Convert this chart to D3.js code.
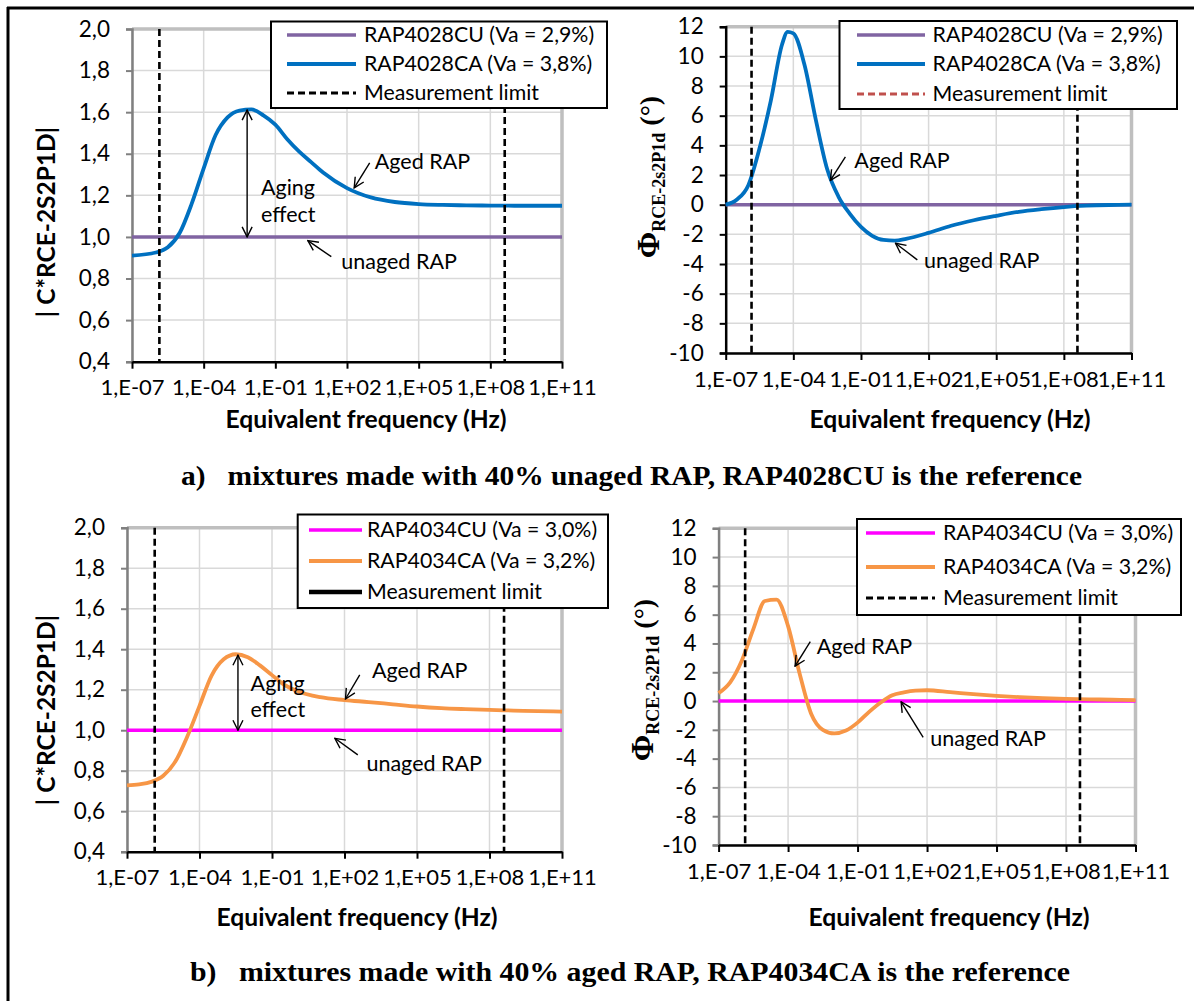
<!DOCTYPE html>
<html>
<head>
<meta charset="utf-8">
<script src="https://cdn.jsdelivr.net/npm/d3@7"></script>
<style>
  html, body { margin: 0; padding: 0; background: #fff; }
  svg { display: block; }
</style>
</head>
<body>
<svg id="chart" width="1194" height="1001"></svg>
<script>
// ---------------- DATA ----------------
const xTickValues = [1e-7, 1e-4, 1e-1, 1e2, 1e5, 1e8, 1e11];
const xTickLabels = ["1,E-07", "1,E-04", "1,E-01", "1,E+02", "1,E+05", "1,E+08", "1,E+11"];
const modTicks = [0.4, 0.6, 0.8, 1.0, 1.2, 1.4, 1.6, 1.8, 2.0];
const modTickLabels = ["0,4", "0,6", "0,8", "1,0", "1,2", "1,4", "1,6", "1,8", "2,0"];
const phaseTicks = [-10, -8, -6, -4, -2, 0, 2, 4, 6, 8, 10, 12];
const phaseTickLabels = ["-10", "-8", "-6", "-4", "-2", "0", "2", "4", "6", "8", "10", "12"];
const measurementLimits = [1.4e-6, 4e8];

const refFreq = [1e-7, 1e11];
const rap4028CU_mod = [1.0, 1.0];
const rap4028CU_phase = [0, 0];
const rap4034CU_mod = [1.0, 1.0];
const rap4034CU_phase = [0, 0];

// RAP4028CA normalised modulus
const freq4028CA_mod = [1e-7, 1e-6, 3.16e-6, 1e-5, 3.16e-5, 1e-4, 3.16e-4, 1e-3, 3.16e-3, 1e-2, 3.16e-2, 1e-1, 3.16e-1, 1, 3.16, 10, 100, 1e3, 1e4, 1e5, 1e6, 1e7, 1e8, 1e9, 1e11];
const rap4028CA_mod = [0.91, 0.925, 0.95, 1.02, 1.16, 1.33, 1.49, 1.575, 1.608, 1.613, 1.585, 1.54, 1.47, 1.41, 1.36, 1.31, 1.235, 1.19, 1.168, 1.158, 1.154, 1.152, 1.151, 1.15, 1.15];

// RAP4028CA phase difference
const freq4028CA_phase = [1e-7, 3.16e-7, 1e-6, 3.16e-6, 1e-5, 3.16e-5, 5.6e-5, 1e-4, 3.16e-4, 1e-3, 3.16e-3, 1e-2, 3.16e-2, 1e-1, 3.16e-1, 1, 3.16, 10, 100, 1e3, 1e4, 1e5, 1e6, 1e7, 1e8, 1e9, 1e10, 1e11];
const rap4028CA_phase = [0.0, 0.35, 1.3, 3.8, 7.0, 10.8, 11.65, 11.55, 9.4, 5.7, 2.4, 0.55, -0.6, -1.5, -2.1, -2.38, -2.42, -2.3, -1.9, -1.42, -1.05, -0.75, -0.48, -0.3, -0.16, -0.07, -0.02, 0.0];

// RAP4034CA normalised modulus
const freq4034CA_mod = [1e-7, 3.16e-7, 1e-6, 3.16e-6, 1e-5, 3.16e-5, 1e-4, 3.16e-4, 1e-3, 3.16e-3, 1e-2, 3.16e-2, 1e-1, 3.16e-1, 1, 10, 100, 1e3, 1e4, 1e5, 1e6, 1e7, 1e8, 1e9, 1e10, 1e11];
const rap4034CA_mod = [0.728, 0.733, 0.745, 0.775, 0.845, 0.97, 1.12, 1.27, 1.35, 1.375, 1.36, 1.32, 1.272, 1.225, 1.195, 1.163, 1.149, 1.139, 1.128, 1.117, 1.109, 1.104, 1.1, 1.097, 1.094, 1.092];

// RAP4034CA phase difference
const freq4034CA_phase = [1e-7, 3.16e-7, 1e-6, 3.16e-6, 1e-5, 3.16e-5, 1e-4, 3.16e-4, 1e-3, 3.16e-3, 1e-2, 3.16e-2, 1e-1, 3.16e-1, 1, 3.16, 10, 31.6, 100, 1e3, 1e4, 1e5, 1e6, 1e7, 1e8, 1e9, 1e10, 1e11];
const rap4034CA_phase = [0.55, 1.3, 2.8, 5.0, 6.95, 7.05, 5.2, 1.9, -0.9, -2.0, -2.25, -2.05, -1.5, -0.75, -0.1, 0.4, 0.6, 0.72, 0.75, 0.62, 0.48, 0.36, 0.27, 0.2, 0.15, 0.12, 0.09, 0.07];

const legendTop = ["RAP4028CU (Va = 2,9%)", "RAP4028CA (Va = 3,8%)", "Measurement limit"];
const legendBottom = ["RAP4034CU (Va = 3,0%)", "RAP4034CA (Va = 3,2%)", "Measurement limit"];
const captionA = "a)   mixtures made with 40% unaged RAP, RAP4028CU is the reference";
const captionB = "b)   mixtures made with 40% aged RAP, RAP4034CA is the reference";

// ---------------- DRAWING ----------------
const SANS = "Lato, 'Open Sans', sans-serif";
const SERIF = "'Liberation Serif', 'DejaVu Serif', serif";
const svg = d3.select("#chart");
const C = {
  purple: "#8064A2", blue: "#0070C0", magenta: "#FF00FF", orange: "#F79646",
  grid: "#D9D9D9", frame: "#BFBFBF", red: "#C0504D"
};

// outer frame
svg.append("line").attr("x1", 8).attr("x2", 8).attr("y1", 7).attr("y2", 1001).attr("stroke", "#000").attr("stroke-width", 3);
svg.append("line").attr("x1", 7).attr("x2", 1194).attr("y1", 8).attr("y2", 8).attr("stroke", "#000").attr("stroke-width", 3);

// arrow markers
const defs = svg.append("defs");
defs.append("marker").attr("id", "arr").attr("viewBox", "0 0 12 12").attr("refX", 11).attr("refY", 6)
  .attr("markerWidth", 12).attr("markerHeight", 12).attr("markerUnits", "userSpaceOnUse").attr("orient", "auto-start-reverse")
  .append("path").attr("d", "M1,1 L11,6 L1,11").attr("fill", "none").attr("stroke", "#000").attr("stroke-width", 1.4);

function panel(cfg) {
  const g = svg.append("g");
  const x = d3.scaleLog().domain([1e-7, 1e11]).range([cfg.left, cfg.right]);
  const y = d3.scaleLinear().domain(cfg.yDomain).range([cfg.bottom, cfg.top]);

  // gridlines
  g.selectAll(".hg").data(cfg.yTicks).join("line")
    .attr("x1", cfg.left).attr("x2", cfg.right).attr("y1", d => y(d)).attr("y2", d => y(d))
    .attr("stroke", C.grid).attr("stroke-width", 1.5);
  g.selectAll(".vg").data(xTickValues).join("line")
    .attr("x1", d => x(d)).attr("x2", d => x(d)).attr("y1", cfg.top).attr("y2", cfg.bottom)
    .attr("stroke", C.grid).attr("stroke-width", 1.5);
  // frame top/right
  g.append("path").attr("d", `M${cfg.left},${cfg.top}H${cfg.right}V${cfg.bottom}`)
    .attr("fill", "none").attr("stroke", C.frame).attr("stroke-width", 3.5);

  // y axis
  const ya = d3.axisLeft(y).tickValues(cfg.yTicks).tickFormat((d, i) => cfg.yTickLabels[i]).tickSize(6).tickPadding(16);
  const yg = g.append("g").attr("transform", `translate(${cfg.left},0)`).call(ya);
  yg.select(".domain").attr("stroke", cfg.yAxisColor).attr("stroke-width", 2.5);
  yg.selectAll(".tick line").attr("stroke", cfg.yAxisColor).attr("stroke-width", 2);
  yg.selectAll(".tick text").attr("fill", "#000").style("font-family", SANS).style("font-size", "22.5px");

  // x axis
  const xa = d3.axisBottom(x).tickValues(xTickValues).tickFormat((d, i) => xTickLabels[i]).tickSize(7).tickSizeOuter(0).tickPadding(11);
  const xg = g.append("g").attr("transform", `translate(0,${cfg.bottom})`).call(xa);
  xg.select(".domain").attr("stroke", "#000").attr("stroke-width", 2.5);
  xg.selectAll(".tick line").attr("stroke", "#000").attr("stroke-width", 2);
  xg.selectAll(".tick text").attr("fill", "#000").style("font-family", SANS).style("font-size", "22px");

  // series
  const line = d3.line().x(d => x(d[0])).y(d => y(d[1])).curve(d3.curveMonotoneX);
  cfg.series.forEach(s => {
    g.append("path").datum(d3.zip(s.f, s.v)).attr("d", line)
      .attr("fill", "none").attr("stroke", s.color).attr("stroke-width", s.width).attr("stroke-linejoin", "round");
  });
  // measurement limits
  g.selectAll(".ml").data(measurementLimits).join("line")
    .attr("x1", d => x(d)).attr("x2", d => x(d)).attr("y1", cfg.top).attr("y2", cfg.bottom)
    .attr("stroke", "#000").attr("stroke-width", 2.6).attr("stroke-dasharray", "7,4");

  // annotations
  (cfg.arrows || []).forEach(a => {
    g.append("line").attr("x1", x(a.f1)).attr("y1", y(a.v1)).attr("x2", x(a.f2)).attr("y2", y(a.v2))
      .attr("stroke", "#000").attr("stroke-width", 1.4)
      .attr("marker-end", "url(#arr)").attr("marker-start", a.both ? "url(#arr)" : null);
  });
  (cfg.notes || []).forEach(n => {
    g.append("text").attr("x", x(n.f)).attr("y", y(n.v)).attr("dy", "0.35em")
      .style("font-family", SANS).style("font-size", "21.5px").text(n.t);
  });

  // legend
  const L = cfg.legend;
  g.append("rect").attr("x", L.x0).attr("y", L.y0).attr("width", L.x1 - L.x0).attr("height", L.y1 - L.y0)
    .attr("fill", "#fff").attr("stroke", "#000").attr("stroke-width", 2);
  L.items.forEach((it, i) => {
    g.append("line").attr("x1", L.sx0).attr("x2", L.sx1).attr("y1", L.rows[i]).attr("y2", L.rows[i])
      .attr("stroke", it.color).attr("stroke-width", it.width).attr("stroke-dasharray", it.dash || null);
    g.append("text").attr("x", L.tx).attr("y", L.rows[i]).attr("dy", "0.35em")
      .style("font-family", SANS).style("font-size", "21.3px").text(it.label);
  });

  // axis titles
  g.append("text").attr("x", cfg.xTitle[0]).attr("y", cfg.xTitle[1]).attr("dy", "0.35em")
    .attr("text-anchor", "middle").attr("textLength", 281).attr("lengthAdjust", "spacingAndGlyphs")
    .style("font-family", SANS).style("font-weight", "bold").style("font-size", "24px")
    .text("Equivalent frequency (Hz)");
  const yt = g.append("text").attr("transform", `translate(${cfg.yTitle[0]},${cfg.yTitle[1]}) rotate(-90)`)
    .attr("text-anchor", "middle").attr("dy", "0.35em").style("font-weight", "bold");
  if (cfg.kind === "mod") {
    yt.style("font-family", SANS).style("font-size", "24.5px").text("| C*RCE-2S2P1D|");
  } else {
    yt.style("font-family", SERIF);
    yt.append("tspan").style("font-size", "32px").text("\u03A6");
    yt.append("tspan").style("font-size", "18px").attr("dy", 6).text("RCE-2s2P1d");
    yt.append("tspan").style("font-size", "28px").attr("dy", -6).text(" (\u00B0)");
  }
}

panel({
  kind: "mod", left: 132, right: 562, top: 29, bottom: 361.7, yDomain: [0.4, 2.0],
  yTicks: modTicks, yTickLabels: modTickLabels, yAxisColor: "#808080",
  series: [
    { f: refFreq, v: rap4028CU_mod, color: C.purple, width: 3.5 },
    { f: freq4028CA_mod, v: rap4028CA_mod, color: C.blue, width: 3.8 }
  ],
  arrows: [
    { f1: 6.6e-3, v1: 1.0, f2: 6.6e-3, v2: 1.61, both: true },
    { f1: 890, v1: 1.356, f2: 200, v2: 1.236 },
    { f1: 22, v1: 0.905, f2: 2.3, v2: 0.982 }
  ],
  notes: [
    { f: 2.5e-2, v: 1.24, t: "Aging" }, { f: 2.5e-2, v: 1.106, t: "effect" },
    { f: 1450, v: 1.362, t: "Aged RAP" }, { f: 58, v: 0.881, t: "unaged RAP" }
  ],
  legend: { x0: 271, x1: 607, y0: 21.5, y1: 108, sx0: 287, sx1: 356, tx: 364, rows: [35, 64, 93],
    items: [
      { label: legendTop[0], color: C.purple, width: 3.5 },
      { label: legendTop[1], color: C.blue, width: 3.8 },
      { label: legendTop[2], color: "#000", width: 3, dash: "7,4" }
    ] },
  xTitle: [366, 420], yTitle: [46, 222]
});

panel({
  kind: "phase", left: 725.7, right: 1131.5, top: 26.7, bottom: 353, yDomain: [-10, 12],
  yTicks: phaseTicks, yTickLabels: phaseTickLabels, yAxisColor: "#000",
  series: [
    { f: refFreq, v: rap4028CU_phase, color: C.purple, width: 3.5 },
    { f: freq4028CA_phase, v: rap4028CA_phase, color: C.blue, width: 3.8 }
  ],
  arrows: [
    { f1: 0.0204, v1: 3.22, f2: 4.4e-3, v2: 1.64 },
    { f1: 31.6, v1: -3.72, f2: 3.4, v2: -2.6 }
  ],
  notes: [
    { f: 0.051, v: 2.95, t: "Aged RAP" }, { f: 62, v: -3.76, t: "unaged RAP" }
  ],
  legend: { x0: 839.5, x1: 1177, y0: 21, y1: 109, sx0: 857, sx1: 925, tx: 932.6, rows: [35, 64, 94],
    items: [
      { label: legendTop[0], color: C.purple, width: 3.5 },
      { label: legendTop[1], color: C.blue, width: 3.8 },
      { label: legendTop[2], color: C.red, width: 3, dash: "7,4" }
    ] },
  xTitle: [950, 420], yTitle: [653, 177]
});

panel({
  kind: "mod", left: 127, right: 562, top: 527.7, bottom: 851.7, yDomain: [0.4, 2.0],
  yTicks: modTicks, yTickLabels: modTickLabels, yAxisColor: "#808080",
  series: [
    { f: refFreq, v: rap4034CU_mod, color: C.magenta, width: 3.5 },
    { f: freq4034CA_mod, v: rap4034CA_mod, color: C.orange, width: 3.8 }
  ],
  arrows: [
    { f1: 3.9e-3, v1: 1.0, f2: 3.9e-3, v2: 1.37, both: true },
    { f1: 427, v1: 1.273, f2: 110, v2: 1.154 },
    { f1: 355, v1: 0.878, f2: 40, v2: 0.96 }
  ],
  notes: [
    { f: 1.3e-2, v: 1.232, t: "Aging" }, { f: 1.3e-2, v: 1.1, t: "effect" },
    { f: 1380, v: 1.297, t: "Aged RAP" }, { f: 810, v: 0.837, t: "unaged RAP" }
  ],
  legend: { x0: 297.7, x1: 608, y0: 514.5, y1: 608, sx0: 309, sx1: 362, tx: 367, rows: [530, 561, 592],
    items: [
      { label: legendBottom[0], color: C.magenta, width: 3.5 },
      { label: legendBottom[1], color: C.orange, width: 3.8 },
      { label: legendBottom[2], color: "#000", width: 4.5 }
    ] },
  xTitle: [357, 918], yTitle: [46, 710]
});

panel({
  kind: "phase", left: 718.6, right: 1135.5, top: 528.3, bottom: 845, yDomain: [-10, 12],
  yTicks: phaseTicks, yTickLabels: phaseTickLabels, yAxisColor: "#808080",
  series: [
    { f: refFreq, v: rap4034CU_phase, color: C.magenta, width: 3.5 },
    { f: freq4034CA_phase, v: rap4034CA_phase, color: C.orange, width: 3.8 }
  ],
  arrows: [
    { f1: 9.1e-4, v1: 4.12, f2: 2.0e-4, v2: 2.43 },
    { f1: 68, v1: -2.52, f2: 7.6, v2: -0.05 }
  ],
  notes: [
    { f: 1.74e-3, v: 3.82, t: "Aged RAP" }, { f: 138, v: -2.59, t: "unaged RAP" }
  ],
  legend: { x0: 857, x1: 1181, y0: 519, y1: 615, sx0: 866, sx1: 935, tx: 943, rows: [533, 567, 598],
    items: [
      { label: legendBottom[0], color: C.magenta, width: 3.5 },
      { label: legendBottom[1], color: C.orange, width: 3.8 },
      { label: legendBottom[2], color: "#000", width: 3, dash: "7,4" }
    ] },
  xTitle: [949, 918], yTitle: [647, 680]
});

// captions
[[captionA, 181, 1082, 485], [captionB, 190, 1070, 981]].forEach(c => {
  svg.append("text").attr("x", c[1]).attr("y", c[3]).attr("textLength", c[2] - c[1]).attr("lengthAdjust", "spacingAndGlyphs")
    .style("font-family", SERIF).style("font-weight", "bold").style("font-size", "28px")
    .style("white-space", "pre").text(c[0]);
});
</script>
</body>
</html>
